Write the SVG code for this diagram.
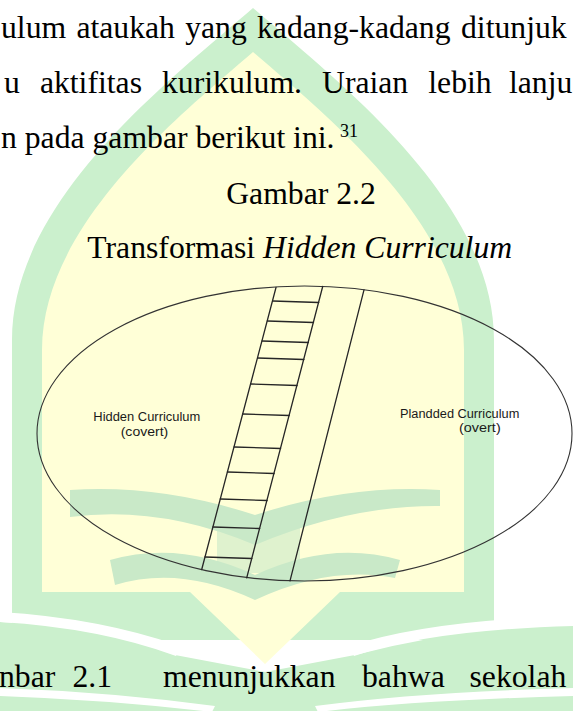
<svg xmlns="http://www.w3.org/2000/svg" width="573" height="711" viewBox="0 0 573 711">
<style>
.body{font-family:"Liberation Serif","Times New Roman",serif;font-size:31.7px;fill:#000}
.it{font-style:italic}
.sup{font-family:"Liberation Serif","Times New Roman",serif;font-size:18px;fill:#000}
.lbl{font-family:"Liberation Sans",Arial,sans-serif;font-size:12.5px;fill:#1a1a1a}
.ln{stroke:#262626;stroke-width:1.3;fill:none;stroke-linecap:round}
.el{stroke:#333;stroke-width:1.1;fill:none}
.wg{fill:#cbf0cd}
.wy{fill:#ffffd7}
.wb{fill:#c9e9c8}
.ww{fill:#fff}
</style>
<rect width="573" height="711" fill="#fff"/>
<g id="watermark">
  <path class="wg" d="M12,340 C12,200 170,80 253,8 C336,80 494,200 494,340 L494,640 L12,640 Z"/>
  <path class="wg" d="M0,622 Q110,628 175,655 L265,672 L355,655 Q460,628 573,622 L573,711 L0,711 Z"/>
  <path class="ww" d="M0,612 Q100,618 180,646 L176,656 Q100,628 0,622 Z"/>
  <path class="ww" d="M573,616 Q430,620 350,646 L354,656 Q430,630 573,626 Z"/>
  <path class="ww" d="M0,688 Q110,692 215,706 L212,712 Q110,700 0,696 Z"/>
  <path class="ww" d="M573,688 Q420,692 315,706 L318,712 Q420,700 573,696 Z"/>
  <path class="wy" d="M42,350 C42,225 180,115 253,52 C326,115 464,225 464,350 L464,592 L340,592 L265,664 L190,592 L42,592 Z"/>
  <path class="wb" d="M70,490 Q160,484 255,515 Q350,484 440,490 L440,506 Q350,505 255,545 Q160,505 70,517 Z"/>
  <path class="wb" d="M110,560 Q180,540 255,575 Q330,540 400,560 L395,578 Q330,565 255,600 Q180,565 115,585 Z"/>
  <path class="wb" d="M217,520 L300,520 L300,573 L217,573 Z" opacity="0.6"/>
</g>
<g id="text">
  <text class="body" y="38.3"><tspan x="1">ulum</tspan><tspan x="76.4">ataukah</tspan><tspan x="185.2">yang</tspan><tspan x="257">kadang-kadang</tspan><tspan x="461">ditunjuk</tspan></text>
  <text class="body" y="93.3"><tspan x="4">u</tspan><tspan x="39.9">aktifitas</tspan><tspan x="162">kurikulum.</tspan><tspan x="322">Uraian</tspan><tspan x="428.3">lebih</tspan><tspan x="509">lanju</tspan></text>
  <text class="body" x="1" y="148.3">n pada gambar berikut ini.</text>
  <text class="sup" x="340" y="137">31</text>
  <text class="body" x="301" y="204" text-anchor="middle">Gambar 2.2</text>
  <text class="body" x="87.3" y="258.3">Transformasi <tspan class="it">Hidden Curriculum</tspan></text>
  <text class="body" y="686.7"><tspan x="-1">nbar</tspan><tspan x="72.5">2.1</tspan><tspan x="163">menunjukkan</tspan><tspan x="362">bahwa</tspan><tspan x="469.5">sekolah</tspan></text>
</g>
<g id="diagram">
  <g id="ellipse"><ellipse class="el" cx="304.5" cy="433.5" rx="267.5" ry="147.5"/></g>
  <g id="connectors">
    <line class="ln" x1="276" y1="287.5" x2="201.7" y2="569.5"/>
    <line class="ln" x1="322.7" y1="286.5" x2="246.7" y2="577.8"/>
    <line class="ln" x1="364" y1="289.8" x2="290" y2="580.8"/>
    <line class="ln" x1="272.7" y1="301" x2="318.7" y2="302.5"/>
    <line class="ln" x1="267.4" y1="321" x2="313.5" y2="322.5"/>
    <line class="ln" x1="262.1" y1="341" x2="308.3" y2="342.5"/>
    <line class="ln" x1="257.6" y1="358" x2="303.9" y2="359.5"/>
    <line class="ln" x1="250.7" y1="384" x2="297.1" y2="385.5"/>
    <line class="ln" x1="242.8" y1="414" x2="289.2" y2="415.5"/>
    <line class="ln" x1="234.1" y1="447" x2="280.6" y2="448.5"/>
    <line class="ln" x1="227.4" y1="472" x2="274.1" y2="473.5"/>
    <line class="ln" x1="220.3" y1="499" x2="267.1" y2="500.5"/>
    <line class="ln" x1="212.9" y1="527" x2="259.7" y2="528.5"/>
    <line class="ln" x1="204.9" y1="557" x2="251.8" y2="558.5"/>
  </g>
  <g id="hidden">
    <text class="lbl" x="93.3" y="421" textLength="107" lengthAdjust="spacingAndGlyphs">Hidden Curriculum</text>
    <text class="lbl" x="120.7" y="435.5" textLength="47.6" lengthAdjust="spacingAndGlyphs">(covert)</text>
  </g>
  <g id="planned">
    <text class="lbl" x="400" y="417.5" textLength="119.3" lengthAdjust="spacingAndGlyphs">Plandded Curriculum</text>
    <text class="lbl" x="459" y="431.7" textLength="41.7" lengthAdjust="spacingAndGlyphs">(overt)</text>
  </g>
</g>
</svg>
